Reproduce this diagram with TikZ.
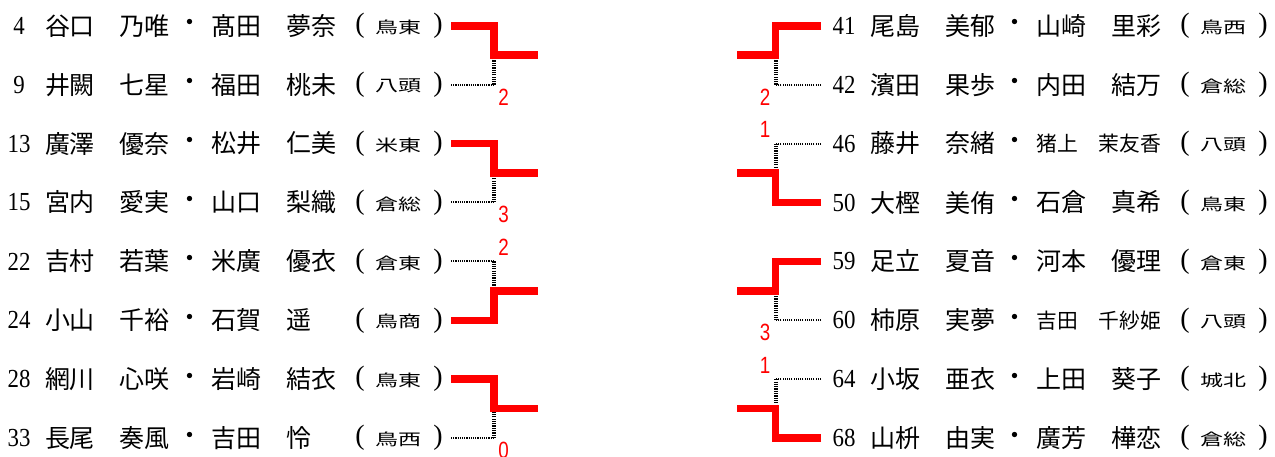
\documentclass[tikz,border=0pt]{standalone}
\usepackage{graphicx}
\usepackage{fontspec}
\newfontfamily\jpf{Noto Sans CJK JP}
\newfontfamily\numfont{Liberation Serif}
\newfontfamily\scorefont{Liberation Sans}
\tikzset{
  nmst/.style={font=\jpf\fontsize{25}{25}\selectfont, inner sep=0pt, outer sep=0pt, anchor=west},
  nmsmall/.style={font=\jpf\fontsize{20.8}{21}\selectfont},
  numst/.style={font=\numfont\fontsize{26}{26}\selectfont, inner sep=0pt, outer sep=0pt, anchor=center},
  dotst/.style={font=\jpf\fontsize{25}{25}\selectfont, inner sep=0pt, outer sep=0pt, anchor=center},
  parst/.style={font=\numfont\fontsize{28}{28}\selectfont, inner sep=0pt, outer sep=0pt, anchor=center},
  schst/.style={font=\jpf\fontsize{23}{23}\selectfont, inner sep=0pt, outer sep=0pt, anchor=west},
  scorest/.style={font=\scorefont\fontsize{23.5}{24}\selectfont, text=red, inner sep=0pt, outer sep=0pt, anchor=center},
  win/.style={draw=red, line width=7.5pt, line join=miter, line cap=butt},
  losh/.style={draw=black, line width=2pt, dash pattern=on 1.1pt off 1.1pt},
  losv/.style={draw=black, line width=4pt, dash pattern=on 1.2pt off 1.1pt}
}
\newcommand\entryrow[8]{%
  \node[numst] (#1no) at (#2-27,#3) {\scalebox{0.88}[1]{#4}};
  \node[nmst] (#1pa) at (#2-1,#3) {#5};
  \node[dotst] (#1dot) at (#2+144,#3) {・};
  \node[nmst,#8] (#1pb) at (#2+165.5,#3) {#6};
  \node[parst] (#1lp) at (#2+314,#3) {(};
  \node[schst] (#1sc) at (#2+329,#3+1.5) {\scalebox{1}[0.7]{#7}};
  \node[parst] (#1rp) at (#2+392,#3) {)};
}
% #1 winner coord, #2 loser coord, #3 junction name, #4 junction x, #5 out x, #6 mid y, #7 score, #8 score x, #9 score y
\newcommand\pairbr[9]{%
  \coordinate (#3) at (#4,#6);
  \coordinate (#3out) at (#5,#6);
  \draw[losh] (#2) -- (#2 -| #3);
  \draw[losv] (#2 -| #3) -- (#3);
  \draw[win] (#1) -| (#3) -- (#3out);
  \node[scorest] (#3sc) at (#8,#9) {\scalebox{0.8}[1]{#7}};
}
\begin{document}
\begin{tikzpicture}[x=1pt,y=-1pt]
\useasboundingbox (0,0) rectangle (1275,457);
\fill[white] (0,0) rectangle (1275,457);
% left entries
\entryrow{a1}{46}{25.8}{4}{谷口　乃唯}{髙田　夢奈}{鳥東}{}
\entryrow{a2}{46}{84.7}{9}{井闕　七星}{福田　桃未}{八頭}{}
\entryrow{a3}{46}{143.6}{13}{廣澤　優奈}{松井　仁美}{米東}{}
\entryrow{a4}{46}{202.5}{15}{宮内　愛実}{山口　梨織}{倉総}{}
\entryrow{a5}{46}{261.4}{22}{吉村　若葉}{米廣　優衣}{倉東}{}
\entryrow{a6}{46}{320.3}{24}{小山　千裕}{石賀　遥}{鳥商}{}
\entryrow{a7}{46}{379.2}{28}{網川　心咲}{岩崎　結衣}{鳥東}{}
\entryrow{a8}{46}{438.1}{33}{長尾　奏風}{吉田　怜}{鳥西}{}
% right entries
\entryrow{b1}{871}{25.8}{41}{尾島　美郁}{山崎　里彩}{鳥西}{}
\entryrow{b2}{871}{84.7}{42}{濱田　果歩}{内田　結万}{倉総}{}
\entryrow{b3}{871}{143.6}{46}{藤井　奈緒}{猪上　茉友香}{八頭}{nmsmall}
\entryrow{b4}{871}{202.5}{50}{大樫　美侑}{石倉　真希}{鳥東}{}
\entryrow{b5}{871}{261.4}{59}{足立　夏音}{河本　優理}{倉東}{}
\entryrow{b6}{871}{320.3}{60}{柿原　実夢}{吉田　千紗姫}{八頭}{nmsmall}
\entryrow{b7}{871}{379.2}{64}{小坂　亜衣}{上田　葵子}{城北}{}
\entryrow{b8}{871}{438.1}{68}{山枡　由実}{廣芳　樺恋}{倉総}{}
% line ends
\coordinate (a1e) at (451,25.8);
\coordinate (a2e) at (451,84.7);
\coordinate (a3e) at (451,143.6);
\coordinate (a4e) at (451,202.5);
\coordinate (a5e) at (451,261.4);
\coordinate (a6e) at (451,320.3);
\coordinate (a7e) at (451,379.2);
\coordinate (a8e) at (451,438.1);
\coordinate (b1e) at (821,25.8);
\coordinate (b2e) at (821,84.7);
\coordinate (b3e) at (821,143.6);
\coordinate (b4e) at (821,202.5);
\coordinate (b5e) at (821,261.4);
\coordinate (b6e) at (821,320.3);
\coordinate (b7e) at (821,379.2);
\coordinate (b8e) at (821,438.1);
% left brackets
\pairbr{a1e}{a2e}{ja1}{494}{538}{55.25}{2}{503.5}{97}
\pairbr{a3e}{a4e}{ja2}{494}{538}{173.05}{3}{503.5}{214.8}
\pairbr{a6e}{a5e}{ja3}{494}{538}{290.85}{2}{503.5}{247.4}
\pairbr{a7e}{a8e}{ja4}{494}{538}{408.65}{0}{503.5}{450.4}
% right brackets
\pairbr{b1e}{b2e}{jb1}{775.5}{737}{55.25}{2}{765}{97}
\pairbr{b4e}{b3e}{jb2}{775.5}{737}{173.05}{1}{765}{129.6}
\pairbr{b5e}{b6e}{jb3}{775.5}{737}{290.85}{3}{765}{332.6}
\pairbr{b8e}{b7e}{jb4}{775.5}{737}{408.65}{1}{765}{365.2}
\end{tikzpicture}
\end{document}
